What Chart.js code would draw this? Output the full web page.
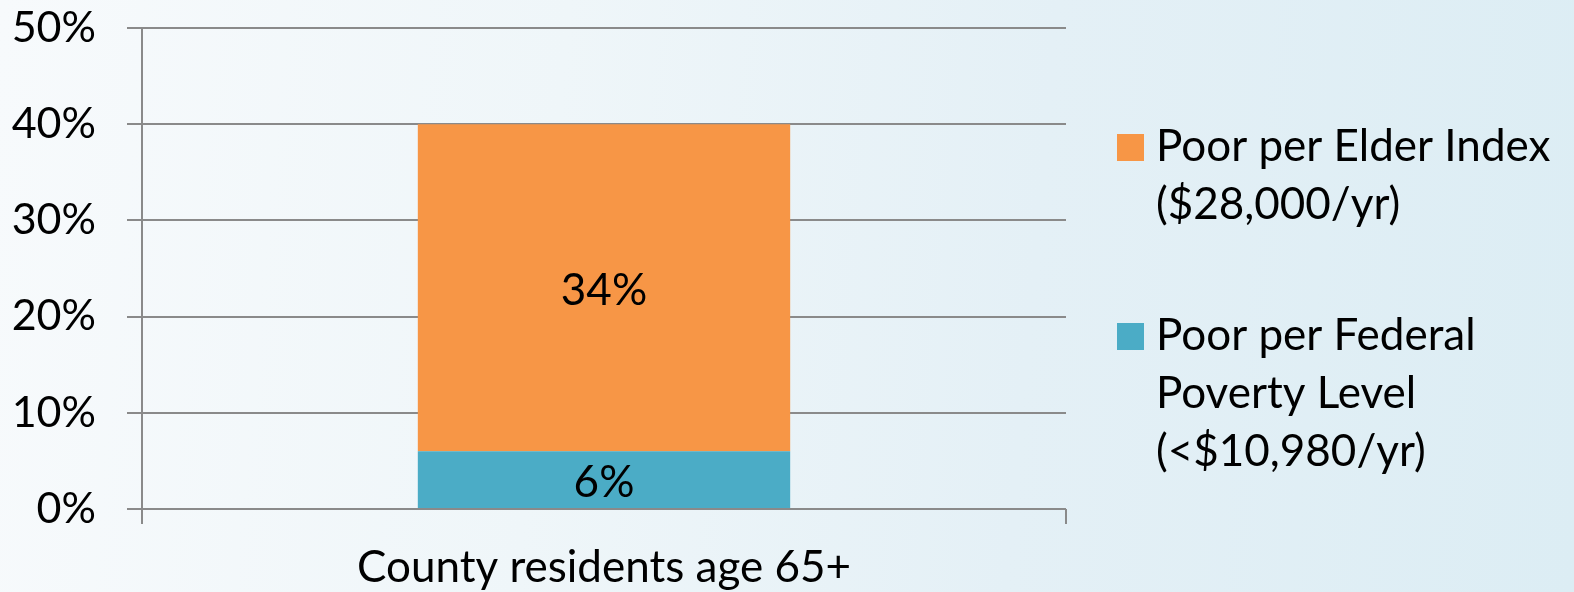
<!DOCTYPE html>
<html>
<head>
<meta charset="utf-8">
<script src="https://cdn.jsdelivr.net/npm/chart.js@4"></script>
<style>
  html, body { margin: 0; padding: 0; }
  body {
    width: 1574px; height: 592px; overflow: hidden;
    background: linear-gradient(95deg, #f7fafc 0%, #eff6f9 35%, #e4f0f6 65%, #dcedf4 100%);
  }
  #wrap { position: relative; width: 1574px; height: 592px; }
</style>
</head>
<body>
<div id="wrap"><canvas id="povertyChart" width="1574" height="592"></canvas></div>
<script>
    // chart data
    const categories = ['County residents age 65+'];
    const federalValues = [6];
    const elderValues = [34];
    const federalLabel = ['Poor per Federal', 'Poverty Level', '(<$10,980/yr)'];
    const elderLabel = ['Poor per Elder Index', '($28,000/yr)'];
    const yTicks = [0, 10, 20, 30, 40, 50];

    const FONT = 'Lato, "DejaVu Sans", sans-serif';
    const GRID = '#8a8a8a';

    // draws the value in the middle of each bar segment
    const barValues = {
        id: 'barValues',
        afterDatasetsDraw(chart) {
            const ctx = chart.ctx;
            ctx.save();
            ctx.fillStyle = '#000';
            ctx.font = '44px ' + FONT;
            ctx.textAlign = 'center';
            ctx.textBaseline = 'middle';
            chart.data.datasets.forEach((ds, i) => {
                chart.getDatasetMeta(i).data.forEach((bar, j) => {
                    const mid = (bar.y + bar.base) / 2;
                    ctx.fillText(ds.data[j] + '%', bar.x, mid + 3);
                });
            });
            ctx.restore();
        }
    };

    // legend on the right, with wrapped labels
    const sideLegend = {
        id: 'sideLegend',
        afterDraw(chart) {
            const ctx = chart.ctx;
            const x = 1117;
            const starts = [161, 350];
            const lineH = 58;
            // orange first, then blue (reverse of stack order)
            const items = chart.data.datasets.slice().reverse();
            ctx.save();
            ctx.font = '44px ' + FONT;
            ctx.textBaseline = 'alphabetic';
            ctx.textAlign = 'left';
            items.forEach((ds, k) => {
                const base = starts[k];
                ctx.fillStyle = ds.backgroundColor;
                ctx.fillRect(x, base - 27, 27, 27);
                ctx.fillStyle = '#000';
                ds.lines.forEach((t, n) => ctx.fillText(t, x + 39, base + n * lineH));
            });
            ctx.restore();
        }
    };

    const ctx = document.getElementById('povertyChart').getContext('2d');
    const povertyChart = new Chart(ctx, {
        type: 'bar',
        data: {
            labels: categories,
            datasets: [{
                label: federalLabel.join(' '),
                lines: federalLabel,
                data: federalValues,
                backgroundColor: '#4bacc6',
                categoryPercentage: 0.403,
                barPercentage: 1
            }, {
                label: elderLabel.join(' '),
                lines: elderLabel,
                data: elderValues,
                backgroundColor: '#f79646',
                categoryPercentage: 0.403,
                barPercentage: 1
            }]
        },
        options: {
            responsive: false,
            animation: false,
            devicePixelRatio: 1,
            layout: { padding: { top: 28, right: 508, bottom: 0, left: 0 } },
            plugins: {
                legend: { display: false },
                tooltip: { enabled: false }
            },
            scales: {
                x: {
                    stacked: true,
                    offset: true,
                    afterFit(scale) { scale.height = 83; scale.paddingLeft = 0; scale.paddingRight = 0; },
                    grid: { offset: true, drawOnChartArea: false, drawTicks: true, tickLength: 15, color: GRID, lineWidth: 2 },
                    border: { display: false },
                    ticks: { color: '#000', font: { size: 44, family: FONT }, padding: 17 }
                },
                y: {
                    stacked: true,
                    min: 0,
                    max: 50,
                    afterBuildTicks(scale) { scale.ticks = yTicks.map(v => ({ value: v })); },
                    afterFit(scale) { scale.width = 142; scale.paddingTop = 0; scale.paddingBottom = 0; },
                    grid: { color: GRID, lineWidth: 2, tickLength: 15 },
                    border: { display: true, color: GRID, width: 2 },
                    ticks: {
                        color: '#000',
                        font: { size: 43, family: FONT },
                        padding: 31,
                        callback: v => v + '%'
                    }
                }
            }
        },
        plugins: [barValues, sideLegend]
    });
    povertyChart.canvas.style.display = 'block';
</script>
</body>
</html>
